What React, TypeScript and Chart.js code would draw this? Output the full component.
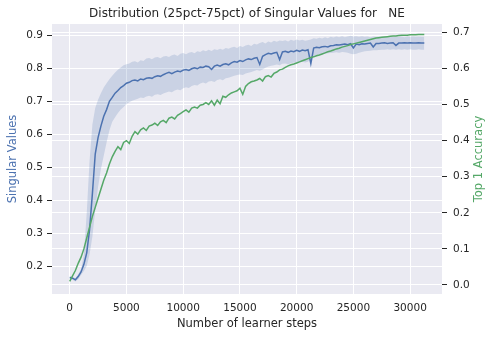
import React, { useEffect, useRef } from "react";
import { Chart, registerables } from "chart.js";

Chart.register(...registerables);

const TITLE = "Distribution (25pct-75pct) of Singular Values for   NE";
const X_LABEL = "Number of learner steps";
const LEFT_LABEL = "Singular Values";
const RIGHT_LABEL = "Top 1 Accuracy";

// evaluation every 250 learner steps, 0 .. 31250
const STEPS = Array.from({ length: 126 }, (_, i) => i * 250);

const SINGULAR_MEDIAN = [
  0.165, 0.163, 0.158, 0.168, 0.182, 0.205, 0.24, 0.31, 0.42, 0.54,
  0.59, 0.625, 0.655, 0.675, 0.7, 0.712, 0.725, 0.733, 0.742, 0.748,
  0.755, 0.758, 0.763, 0.765, 0.762, 0.768, 0.766, 0.77, 0.772, 0.77,
  0.775, 0.778, 0.776, 0.781, 0.785, 0.788, 0.784, 0.789, 0.792, 0.79,
  0.795, 0.797, 0.794, 0.799, 0.802, 0.799, 0.804, 0.803, 0.807, 0.805,
  0.797, 0.807, 0.81, 0.807, 0.812, 0.814, 0.811, 0.817, 0.821, 0.819,
  0.824, 0.821, 0.826, 0.829, 0.827, 0.831, 0.833, 0.812, 0.837, 0.842,
  0.846, 0.844, 0.847, 0.849, 0.827, 0.85, 0.852, 0.849, 0.853, 0.851,
  0.855, 0.852, 0.856, 0.854, 0.857, 0.815, 0.862, 0.864, 0.863, 0.866,
  0.867, 0.865, 0.869, 0.87, 0.872, 0.871, 0.873, 0.874, 0.872, 0.875,
  0.862, 0.874, 0.872, 0.875, 0.874, 0.876, 0.877, 0.865, 0.876, 0.876,
  0.877, 0.878, 0.876, 0.877, 0.878, 0.87, 0.877, 0.877, 0.878, 0.877,
  0.878, 0.877, 0.877, 0.878, 0.877, 0.877,
];

const SINGULAR_P75 = [
  0.17, 0.167, 0.163, 0.175, 0.19, 0.235, 0.36, 0.52, 0.63, 0.68,
  0.705, 0.725, 0.742, 0.755, 0.767, 0.778, 0.788, 0.796, 0.803, 0.81,
  0.813, 0.815, 0.82, 0.822, 0.818, 0.825, 0.823, 0.83, 0.832, 0.828,
  0.833, 0.835, 0.831, 0.836, 0.838, 0.835, 0.84, 0.842, 0.838, 0.845,
  0.847, 0.843, 0.848, 0.85, 0.846, 0.852, 0.85, 0.855, 0.852, 0.857,
  0.853, 0.858, 0.856, 0.86, 0.857, 0.862, 0.86, 0.864, 0.866, 0.862,
  0.868, 0.865, 0.87, 0.872, 0.868, 0.875, 0.873, 0.877, 0.88, 0.876,
  0.882, 0.879, 0.884, 0.881, 0.885, 0.883, 0.886, 0.882, 0.887, 0.884,
  0.888, 0.885, 0.887, 0.884, 0.886, 0.888, 0.892, 0.89, 0.893, 0.891,
  0.895, 0.892, 0.896, 0.894, 0.897, 0.895, 0.898, 0.895, 0.897, 0.899,
  0.897, 0.898, 0.896, 0.898, 0.896, 0.897, 0.895, 0.897, 0.896, 0.897,
  0.896, 0.897, 0.895, 0.897, 0.896, 0.897, 0.896, 0.897, 0.895, 0.897,
  0.896, 0.897, 0.896, 0.897, 0.896, 0.896,
];

const SINGULAR_P25 = [
  0.16, 0.158, 0.153, 0.16, 0.173, 0.185, 0.2, 0.235, 0.29, 0.37,
  0.44, 0.495, 0.535, 0.575, 0.612, 0.638, 0.652, 0.665, 0.675, 0.683,
  0.692, 0.697, 0.702, 0.705, 0.708, 0.712, 0.71, 0.715, 0.717, 0.714,
  0.72, 0.722, 0.719, 0.724, 0.727, 0.73, 0.728, 0.733, 0.736, 0.734,
  0.74, 0.743, 0.741, 0.747, 0.75, 0.748, 0.754, 0.757, 0.754, 0.76,
  0.762, 0.759, 0.765, 0.767, 0.764, 0.77, 0.772, 0.775, 0.778, 0.78,
  0.782, 0.78, 0.785, 0.787, 0.789, 0.792, 0.795, 0.793, 0.797, 0.802,
  0.806, 0.808, 0.81, 0.812, 0.81, 0.814, 0.815, 0.813, 0.816, 0.818,
  0.817, 0.819, 0.82, 0.818, 0.82, 0.83, 0.837, 0.84, 0.842, 0.843,
  0.845, 0.846, 0.847, 0.848, 0.849, 0.848, 0.85, 0.849, 0.848, 0.845,
  0.843, 0.845, 0.848, 0.85, 0.852, 0.853, 0.854, 0.855, 0.855, 0.856,
  0.857, 0.857, 0.858, 0.857, 0.858, 0.857, 0.858, 0.857, 0.858, 0.857,
  0.858, 0.857, 0.857, 0.858, 0.857, 0.857,
];

const TOP1_ACCURACY = [
  0.01, 0.025, 0.04, 0.06, 0.077, 0.1, 0.13, 0.16, 0.19, 0.215,
  0.24, 0.265, 0.29, 0.31, 0.335, 0.355, 0.37, 0.383, 0.375, 0.395,
  0.4, 0.392, 0.412, 0.425, 0.418, 0.43, 0.435, 0.428, 0.44, 0.443,
  0.448, 0.442, 0.452, 0.456, 0.45, 0.462, 0.465, 0.46, 0.47, 0.475,
  0.48, 0.485, 0.479, 0.49, 0.493, 0.49, 0.498, 0.5, 0.505, 0.5,
  0.51, 0.498, 0.512, 0.502, 0.523, 0.52, 0.527, 0.532, 0.535, 0.538,
  0.545, 0.528, 0.55, 0.558, 0.563, 0.565, 0.568, 0.572, 0.565, 0.577,
  0.58, 0.576, 0.586, 0.59, 0.596, 0.598, 0.603, 0.607, 0.61, 0.612,
  0.615, 0.618, 0.621, 0.624, 0.627, 0.63, 0.632, 0.635, 0.637, 0.64,
  0.643, 0.646, 0.648, 0.651, 0.654, 0.656, 0.659, 0.661, 0.663, 0.666,
  0.668, 0.67, 0.672, 0.674, 0.676, 0.678, 0.68, 0.682, 0.684, 0.685,
  0.686, 0.687, 0.688, 0.689, 0.69, 0.69, 0.691, 0.692, 0.692, 0.692,
  0.693, 0.693, 0.693, 0.694, 0.694, 0.694,
];

const X_TICKS = [0, 5000, 10000, 15000, 20000, 25000, 30000];
const LEFT_TICKS = [0.2, 0.3, 0.4, 0.5, 0.6, 0.7, 0.8, 0.9];
const RIGHT_TICKS = [0.0, 0.1, 0.2, 0.3, 0.4, 0.5, 0.6, 0.7];

const BLUE = "#4C72B0";
const GREEN = "#55A868";
const TEXT = "#262626";
const FONT = '"DejaVu Sans", sans-serif';

const decor = {
  id: "decor",
  beforeDraw(chart: any) {
    const { ctx, chartArea: a } = chart;
    ctx.save();
    ctx.fillStyle = "#EAEAF2";
    ctx.fillRect(a.left, a.top, a.right - a.left, a.bottom - a.top);
    ctx.restore();
  },
  afterDraw(chart: any) {
    const { ctx, chartArea: a } = chart;
    const cx = (a.left + a.right) / 2;
    const cy = (a.top + a.bottom) / 2;
    ctx.save();
    ctx.textAlign = "center";
    ctx.textBaseline = "alphabetic";
    ctx.fillStyle = TEXT;
    ctx.font = `12px ${FONT}`;
    ctx.fillText(TITLE, cx, 17.3);
    ctx.font = `11.5px ${FONT}`;
    ctx.fillText(X_LABEL, cx, 327);
    ctx.save();
    ctx.translate(15.5, cy);
    ctx.rotate(-Math.PI / 2);
    ctx.fillStyle = BLUE;
    ctx.fillText(LEFT_LABEL, 0, 0);
    ctx.restore();
    ctx.save();
    ctx.translate(481.5, cy);
    ctx.rotate(-Math.PI / 2);
    ctx.fillStyle = GREEN;
    ctx.fillText(RIGHT_LABEL, 0, 0);
    ctx.restore();
    ctx.restore();
  },
};

export default function App() {
  const ref = useRef<HTMLCanvasElement | null>(null);

  useEffect(() => {
    document.body.style.margin = "0";
    const canvas = ref.current;
    if (!canvas) return;
    const pts = (arr: number[]) => STEPS.map((x, i) => ({ x, y: arr[i] }));
    const tickFont = { family: FONT, size: 10.5 };

    const chart = new Chart(canvas, {
      type: "line",
      data: {
        datasets: [
          {
            label: "Top 1 Accuracy",
            data: pts(TOP1_ACCURACY),
            yAxisID: "y2",
            borderColor: GREEN,
            borderWidth: 1.5,
            pointRadius: 0,
            fill: false,
            tension: 0,
          },
          {
            label: "Median",
            data: pts(SINGULAR_MEDIAN),
            yAxisID: "y",
            borderColor: BLUE,
            borderWidth: 1.5,
            pointRadius: 0,
            fill: false,
            tension: 0,
          },
          {
            label: "75pct",
            data: pts(SINGULAR_P75),
            yAxisID: "y",
            borderColor: "rgba(0,0,0,0)",
            borderWidth: 0,
            pointRadius: 0,
            backgroundColor: "rgba(76,114,176,0.2)",
            fill: "+1",
            tension: 0,
          },
          {
            label: "25pct",
            data: pts(SINGULAR_P25),
            yAxisID: "y",
            borderColor: "rgba(0,0,0,0)",
            borderWidth: 0,
            pointRadius: 0,
            fill: false,
            tension: 0,
          },
        ],
      },
      options: {
        responsive: false,
        animation: false,
        devicePixelRatio: 1,
        layout: { padding: { top: 24, left: 0, right: 0, bottom: 0 } },
        plugins: {
          legend: { display: false },
          title: { display: false },
          tooltip: { enabled: false },
        },
        scales: {
          x: {
            type: "linear",
            position: "bottom",
            min: -1560,
            max: 32810,
            afterBuildTicks: (s: any) => {
              s.ticks = X_TICKS.map((v) => ({ value: v }));
            },
            afterFit: (s: any) => {
              s.height = 44;
            },
            border: { display: false },
            grid: { color: "#FFFFFF", lineWidth: 1, drawTicks: false },
            ticks: {
              padding: 8,
              color: TEXT,
              font: tickFont,
              maxRotation: 0,
              callback: (v: any) => String(v),
            },
          },
          y: {
            type: "linear",
            position: "left",
            min: 0.115,
            max: 0.935,
            afterBuildTicks: (s: any) => {
              s.ticks = LEFT_TICKS.map((v) => ({ value: v }));
            },
            afterFit: (s: any) => {
              s.width = 52;
            },
            border: { display: false },
            grid: { color: "#FFFFFF", lineWidth: 1, tickLength: 5, tickColor: TEXT },
            ticks: {
              padding: 4,
              color: TEXT,
              font: tickFont,
              callback: (v: any) => Number(v).toFixed(1),
            },
          },
          y2: {
            type: "linear",
            position: "right",
            min: -0.025,
            max: 0.723,
            afterBuildTicks: (s: any) => {
              s.ticks = RIGHT_TICKS.map((v) => ({ value: v }));
            },
            afterFit: (s: any) => {
              s.width = 50;
            },
            border: { display: false },
            grid: { color: "#FFFFFF", lineWidth: 1, tickLength: 5, tickColor: TEXT },
            ticks: {
              padding: 6,
              color: TEXT,
              font: tickFont,
              callback: (v: any) => Number(v).toFixed(1),
            },
          },
        },
      },
      plugins: [decor],
    });
    return () => chart.destroy();
  }, []);

  return (
    <canvas
      ref={ref}
      width={492}
      height={338}
      style={{ display: "block", width: 492, height: 338 }}
    />
  );
}
